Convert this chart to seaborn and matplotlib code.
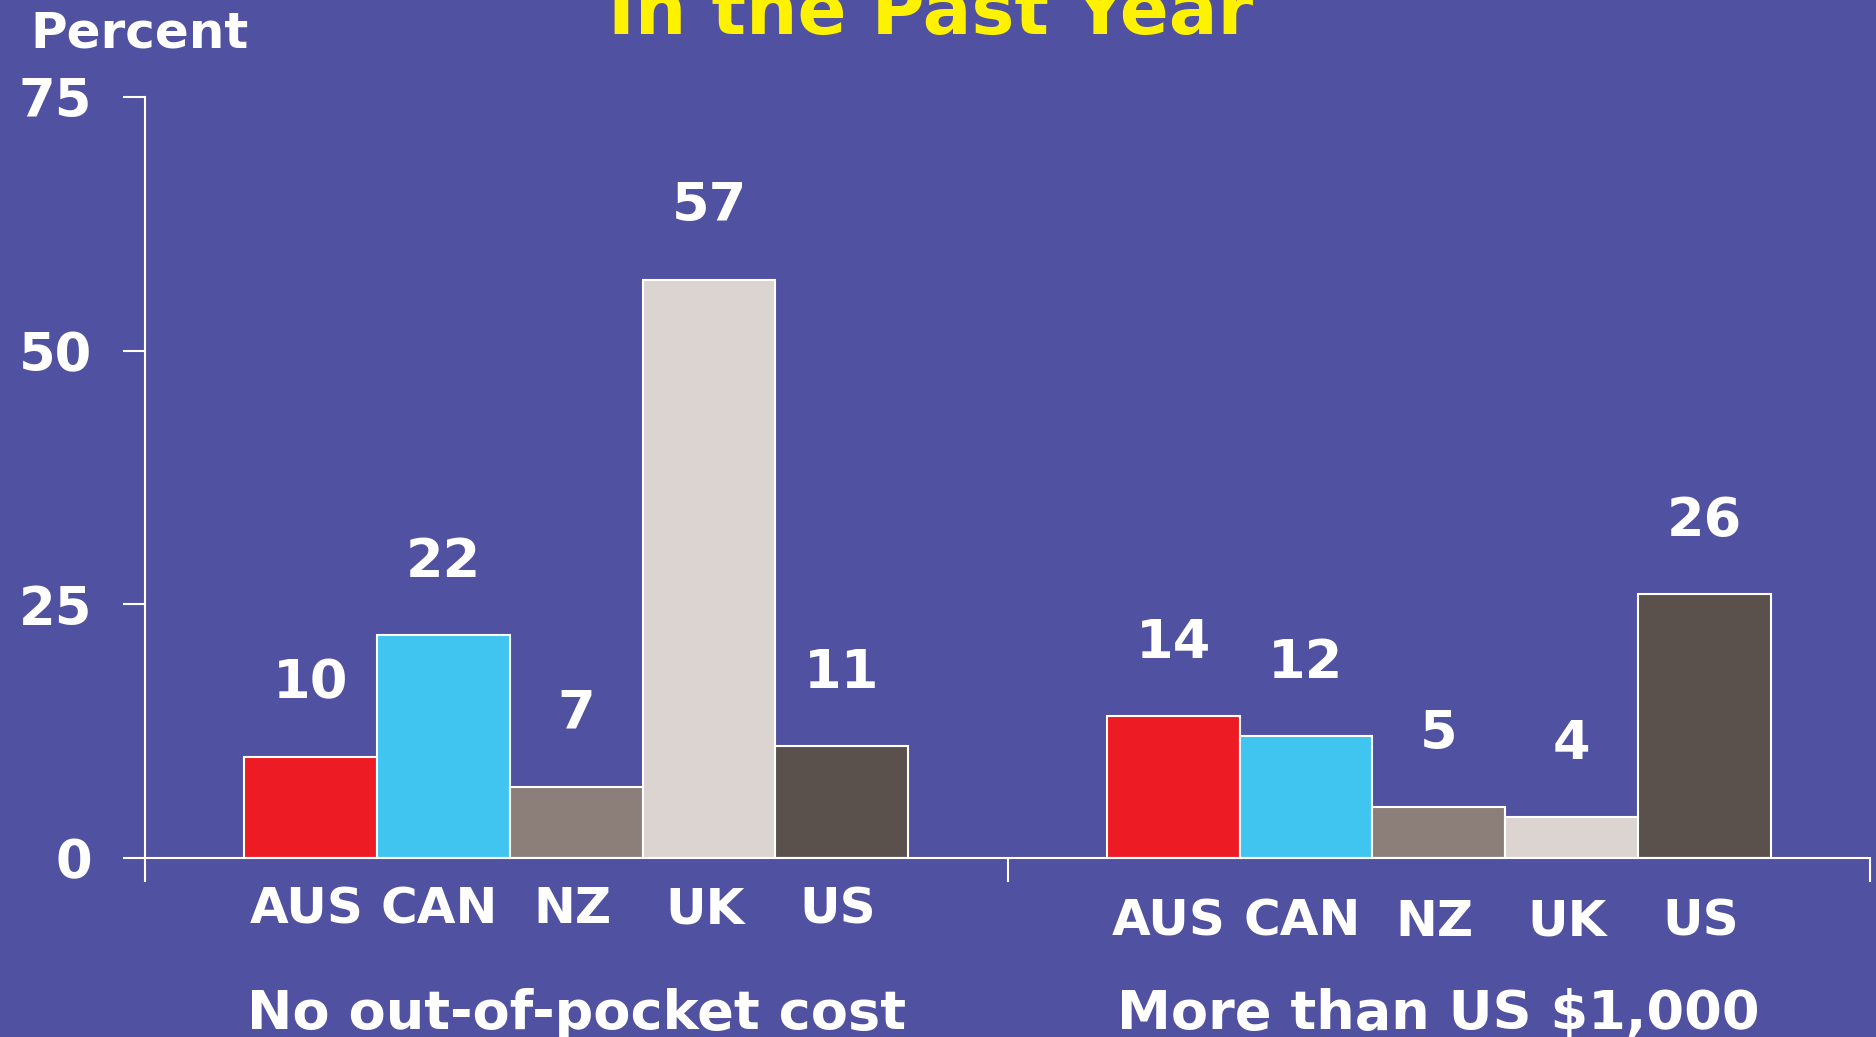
import matplotlib
matplotlib.use('Agg')
import matplotlib.pyplot as plt
import seaborn as sns
import pandas as pd

# 데이터
groups = ['No out-of-pocket cost', 'More than US $1,000']
countries = ['AUS', 'CAN', 'NZ', 'UK', 'US']
no_cost = [10, 22, 7, 57, 11]
over_1000 = [14, 12, 5, 4, 26]
colors = ['#ED1C24', '#3FC5F0', '#8C7F7A', '#DCD4D1', '#5A514D']

bg = '#5151A1'

rows = []
for g, vals in zip(groups, [no_cost, over_1000]):
    for c, v in zip(countries, vals):
        rows.append({'group': g, 'country': c, 'value': v})
df = pd.DataFrame(rows)

sns.set_style('white')
plt.rcParams['font.family'] = ['DejaVu Sans']
plt.rcParams['font.weight'] = 'bold'

fig = plt.figure(figsize=(18.76, 10.37), dpi=100, facecolor=bg)
ax = fig.add_axes([0.0773, 0.1726, 0.9195, 0.7339])
ax.set_facecolor(bg)

sns.barplot(data=df, x='group', y='value', hue='country', hue_order=countries,
            palette=colors, saturation=1, width=0.77, edgecolor='white',
            linewidth=1.5, legend=False, ax=ax)

ax.set_xlim(-0.5, 1.5)
ax.set_ylim(0, 75)
ax.set_yticks([0, 25, 50, 75])
ax.set_xlabel('')
ax.set_ylabel('')
ax.set_xticks([])
ax.set_xticks([-0.5, 0.5, 1.5], minor=True)

for s in ['top', 'right']:
    ax.spines[s].set_visible(False)
for s in ['left', 'bottom']:
    ax.spines[s].set_color('white')
    ax.spines[s].set_linewidth(1.5)

ax.tick_params(axis='y', direction='out', length=16, width=1.5, color='white',
               labelcolor='white', labelsize=38, pad=22, left=True)
ax.tick_params(axis='x', which='minor', direction='out', length=17, width=1.5,
               color='white', bottom=True)
for t in ax.get_yticklabels():
    t.set_fontweight('bold')

# 값 라벨
for cont in ax.containers:
    ax.bar_label(cont, fmt='%d', padding=34, color='white', fontsize=39,
                 fontweight='bold')

# 국가 라벨 (막대 위치 기준)
for i, cont in enumerate(ax.containers):
    for j, bar in enumerate(cont):
        xc = bar.get_x() + bar.get_width() / 2
        off = -47 if j == 0 else -56
        ax.annotate(countries[i], xy=(xc, 0), xytext=(-3, off),
                    textcoords='offset points', ha='center', va='baseline',
                    color='white', fontsize=36, fontweight='bold',
                    annotation_clip=False)

# 그룹 라벨
for k, g in enumerate(groups):
    ax.annotate(g, xy=(k, 0), xytext=(0, -123), textcoords='offset points',
                ha='center', va='baseline', color='white', fontsize=39,
                fontweight='bold', annotation_clip=False)

fig.text(0.016, 0.968, 'Percent', color='white', fontsize=36,
         fontweight='bold', ha='left', va='center')
fig.text(0.496, 0.967, 'In the Past Year', color='#FFF200', fontsize=52,
         fontweight='bold', ha='center', va='baseline')

fig.savefig('out.png', dpi=100, facecolor=bg)
